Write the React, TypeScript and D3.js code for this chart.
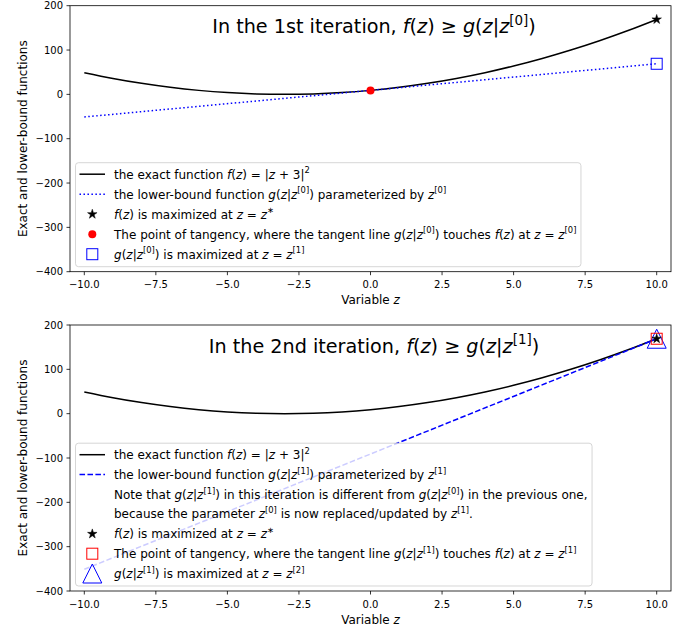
import React, { useEffect, useRef } from 'react';
import * as d3 from 'd3';

// ---------- data ----------
const zGrid = [-10, -9, -8, -7, -6, -5, -4, -3, -2, -1, 0, 1, 2, 3, 4, 5, 6, 7, 8, 9, 10];
const exactValues = [49, 36, 25, 16, 9, 4, 1, 0, 1, 4, 9, 16, 25, 36, 49, 64, 81, 100, 121, 144, 169];
const tangentZ = [-10, 10];
const lowerBound1 = [-51, 69];
const lowerBound2 = [-351, 169];
const fMaxPoint = [10, 169];
const tangency1 = [0, 9];
const gMax1 = [10, 69];
const tangency2 = [10, 169];
const gMax2 = [10, 169];
const xTickValues = [-10, -7.5, -5, -2.5, 0, 2.5, 5, 7.5, 10];
const yTickValues = [-400, -300, -200, -100, 0, 100, 200];
const titles = [
  'In the 1st iteration, $f(z) \\geq g(z|z^{[0]})$',
  'In the 2nd iteration, $f(z) \\geq g(z|z^{[1]})$',
];
const legend1Labels = [
  'the exact function $f(z) = |z+3|^2$',
  'the lower-bound function $g(z|z^{[0]})$ parameterized by $z^{[0]}$',
  '$f(z)$ is maximized at $z = z^*$',
  'The point of tangency, where the tangent line $g(z|z^{[0]})$ touches $f(z)$ at $z = z^{[0]}$',
  '$g(z|z^{[0]})$ is maximized at $z = z^{[1]}$',
];
const legend2Labels = [
  'the exact function $f(z) = |z+3|^2$',
  'the lower-bound function $g(z|z^{[1]})$ parameterized by $z^{[1]}$',
  'Note that $g(z|z^{[1]})$ in this iteration is different from $g(z|z^{[0]})$ in the previous one,',
  'because the parameter $z^{[0]}$ is now replaced/updated by $z^{[1]}$.',
  '$f(z)$ is maximized at $z = z^*$',
  'The point of tangency, where the tangent line $g(z|z^{[1]})$ touches $f(z)$ at $z = z^{[1]}$',
  '$g(z|z^{[1]})$ is maximized at $z = z^{[2]}$',
];
const yLabel = 'Exact and lower-bound functions';
const xLabel = 'Variable $z$';

// ---------- mathtext ----------
type Tok = { text: string; italic: boolean; sup: boolean };

function parseMath(m: string, sup: boolean, out: Tok[]) {
  let i = 0;
  while (i < m.length) {
    const c = m[i];
    if (c === '^') {
      i++;
      let content = '';
      if (m[i] === '{') {
        let depth = 1;
        i++;
        const start = i;
        while (i < m.length && depth > 0) {
          if (m[i] === '{') depth++;
          else if (m[i] === '}') depth--;
          i++;
        }
        content = m.slice(start, i - 1);
      } else {
        content = m[i];
        i++;
      }
      parseMath(content, true, out);
      continue;
    }
    if (c === ' ') { i++; continue; }
    if (c === '\\') {
      let j = i + 1;
      while (j < m.length && /[a-zA-Z]/.test(m[j])) j++;
      const cmd = m.slice(i + 1, j);
      i = j;
      if (cmd === 'geq') out.push({ text: ' \u2265 ', italic: false, sup });
      continue;
    }
    if (/[a-zA-Z]/.test(c)) out.push({ text: c, italic: true, sup });
    else if (c === '=' || c === '+') out.push({ text: ' ' + c + ' ', italic: false, sup });
    else if (c === '*') out.push({ text: '\u2217', italic: false, sup });
    else out.push({ text: c, italic: false, sup });
    i++;
  }
}

function parseLabel(s: string): Tok[] {
  const toks: Tok[] = [];
  s.split('$').forEach((p, idx) => {
    if (idx % 2 === 0) { if (p) toks.push({ text: p, italic: false, sup: false }); }
    else parseMath(p, false, toks);
  });
  const merged: Tok[] = [];
  for (const t of toks) {
    const last = merged[merged.length - 1];
    if (last && last.italic === t.italic && last.sup === t.sup) last.text += t.text;
    else merged.push({ ...t });
  }
  return merged;
}

function drawMath(sel: any, str: string, x: number, y: number, size: number, anchor = 'start') {
  const t = sel.append('text')
    .attr('x', x).attr('y', y)
    .attr('font-size', size)
    .attr('text-anchor', anchor)
    .attr('fill', 'black')
    .style('white-space', 'pre');
  let shift = 0;
  for (const tok of parseLabel(str)) {
    const target = tok.sup ? -0.42 * size : 0;
    t.append('tspan')
      .attr('dy', target - shift)
      .attr('font-size', tok.sup ? size * 0.7 : size)
      .attr('font-style', tok.italic ? 'italic' : 'normal')
      .text(tok.text);
    shift = target;
  }
  return t;
}

function starPath(cx: number, cy: number, r: number) {
  const pts: string[] = [];
  for (let i = 0; i < 10; i++) {
    const ang = -Math.PI / 2 + (i * Math.PI) / 5;
    const rr = i % 2 === 0 ? r : r * 0.381966;
    pts.push(`${cx + rr * Math.cos(ang)},${cy + rr * Math.sin(ang)}`);
  }
  return 'M' + pts.join('L') + 'Z';
}

type Marker = { kind: 'star' | 'circle' | 'square' | 'triangle'; color: string; size: number; fill: boolean };

function drawMarker(g: any, m: Marker, cx: number, cy: number) {
  const h = m.size / 2;
  if (m.kind === 'star') {
    g.append('path').attr('d', starPath(cx, cy, h)).attr('fill', m.color).attr('stroke', m.color).attr('stroke-width', 0.5);
  } else if (m.kind === 'circle') {
    g.append('circle').attr('cx', cx).attr('cy', cy).attr('r', h).attr('fill', m.color);
  } else if (m.kind === 'square') {
    g.append('rect').attr('x', cx - h).attr('y', cy - h).attr('width', m.size).attr('height', m.size)
      .attr('fill', 'none').attr('stroke', m.color).attr('stroke-width', 1);
  } else {
    g.append('path').attr('d', `M${cx},${cy - h}L${cx - h},${cy + h}L${cx + h},${cy + h}Z`)
      .attr('fill', 'none').attr('stroke', m.color).attr('stroke-width', 1);
  }
}

// ---------- layout ----------
const W = 688;
const H = 629;
const AX_LEFT = 70;
const AX_RIGHT = 671;
const PANELS = [
  { top: 5.7, bottom: 271.7 },
  { top: 325, bottom: 591 },
];
const DOTTED = '1.5,2.475';
const DASHED = '5.55,2.4';
const LEGEND_FS = 12;

export default function App() {
  const ref = useRef<SVGSVGElement | null>(null);

  useEffect(() => {
    const svg = d3.select(ref.current);
    svg.selectAll('*').remove();
    svg.append('rect').attr('width', W).attr('height', H).attr('fill', 'white');

    const starM: Marker = { kind: 'star', color: 'black', size: 10, fill: true };
    const circleM: Marker = { kind: 'circle', color: '#ff0000', size: 8, fill: true };
    const squareBlue: Marker = { kind: 'square', color: '#0000ff', size: 11, fill: false };
    const squareRed: Marker = { kind: 'square', color: '#ff0000', size: 11, fill: false };
    const triM: Marker = { kind: 'triangle', color: '#0000ff', size: 19, fill: false };

    const panelDefs = [
      {
        gValues: lowerBound1, dash: DOTTED,
        points: [
          { p: fMaxPoint, m: starM },
          { p: tangency1, m: circleM },
          { p: gMax1, m: squareBlue },
        ],
        legend: [
          { label: legend1Labels[0], line: 'solid-black' },
          { label: legend1Labels[1], line: 'dotted' },
          { label: legend1Labels[2], marker: starM },
          { label: legend1Labels[3], marker: circleM },
          { label: legend1Labels[4], marker: squareBlue },
        ],
      },
      {
        gValues: lowerBound2, dash: DASHED,
        points: [
          { p: gMax2, m: triM },
          { p: tangency2, m: squareRed },
          { p: fMaxPoint, m: starM },
        ],
        legend: [
          { label: legend2Labels[0], line: 'solid-black' },
          { label: legend2Labels[1], line: 'dashed' },
          { label: legend2Labels[2] },
          { label: legend2Labels[3] },
          { label: legend2Labels[4], marker: starM },
          { label: legend2Labels[5], marker: squareRed },
          { label: legend2Labels[6], marker: triM },
        ],
      },
    ];

    const root = svg.append('g').attr('font-family', '"DejaVu Sans", sans-serif');

    panelDefs.forEach((pd: any, pi) => {
      const { top, bottom } = PANELS[pi];
      const x = d3.scaleLinear().domain([-10.5, 10.5]).range([AX_LEFT, AX_RIGHT]);
      const y = d3.scaleLinear().domain([-400, 200]).range([bottom, top]);
      const g = root.append('g');

      const clipId = `clip${pi}`;
      g.append('clipPath').attr('id', clipId).append('rect')
        .attr('x', AX_LEFT).attr('y', top).attr('width', AX_RIGHT - AX_LEFT).attr('height', bottom - top);

      const plot = g.append('g').attr('clip-path', `url(#${clipId})`);

      const line = d3.line<number>()
        .x((_, i) => x(zGrid[i]))
        .y((d) => y(d))
        .curve(d3.curveNatural);
      plot.append('path').attr('d', line(exactValues) as string)
        .attr('fill', 'none').attr('stroke', 'black').attr('stroke-width', 1.5);

      const gLine = d3.line<number>().x((_, i) => x(tangentZ[i])).y((d) => y(d));
      plot.append('path').attr('d', gLine(pd.gValues) as string)
        .attr('fill', 'none').attr('stroke', '#0000ff').attr('stroke-width', 1.5)
        .attr('stroke-dasharray', pd.dash);

      const mk = g.append('g');
      pd.points.forEach((pt: any) => drawMarker(mk, pt.m, x(pt.p[0]), y(pt.p[1])));

      // axes spines
      g.append('rect').attr('x', AX_LEFT).attr('y', top).attr('width', AX_RIGHT - AX_LEFT).attr('height', bottom - top)
        .attr('fill', 'none').attr('stroke', 'black').attr('stroke-width', 0.8);

      // x ticks
      xTickValues.forEach((v) => {
        const xx = x(v);
        g.append('line').attr('x1', xx).attr('x2', xx).attr('y1', bottom).attr('y2', bottom + 3.5)
          .attr('stroke', 'black').attr('stroke-width', 0.8);
        g.append('text').attr('x', xx).attr('y', bottom + 7 + 9.5).attr('font-size', 10)
          .attr('text-anchor', 'middle').text(d3.format('.1f')(v).replace('-', '\u2212'));
      });
      yTickValues.forEach((v) => {
        const yy = y(v);
        g.append('line').attr('x1', AX_LEFT - 3.5).attr('x2', AX_LEFT).attr('y1', yy).attr('y2', yy)
          .attr('stroke', 'black').attr('stroke-width', 0.8);
        g.append('text').attr('x', AX_LEFT - 7).attr('y', yy + 3.6).attr('font-size', 10)
          .attr('text-anchor', 'end').text(String(v).replace('-', '\u2212'));
      });

      // labels
      drawMath(g, xLabel, (AX_LEFT + AX_RIGHT) / 2, bottom + 32.5, 12, 'middle');
      const cy = (top + bottom) / 2;
      g.append('text').attr('transform', `translate(26.5,${cy}) rotate(-90)`)
        .attr('font-size', 12).attr('text-anchor', 'middle').text(yLabel);

      // title
      drawMath(g, titles[pi], (AX_LEFT + AX_RIGHT) / 2 + 3.5, top + 27.5, 19.2, 'middle');

      // legend
      const n = pd.legend.length;
      const pitch = pi === 0 ? 20 : 19.8;
      const lastC = bottom - 5 - 12.5;
      const firstC = lastC - (n - 1) * pitch;
      const lg = g.append('g');
      const box = lg.append('rect')
        .attr('x', AX_LEFT + 5.5).attr('y', firstC - 11.5)
        .attr('height', lastC + 12.5 - (firstC - 11.5))
        .attr('rx', 3).attr('ry', 3)
        .attr('fill', 'white').attr('fill-opacity', 0.8)
        .attr('stroke', '#cccccc').attr('stroke-opacity', 0.8).attr('stroke-width', 1);
      let maxRight = 0;
      pd.legend.forEach((it: any, k: number) => {
        const c = firstC + k * pitch;
        if (it.line) {
          const ln = lg.append('line').attr('x1', 79.5).attr('x2', 105).attr('y1', c).attr('y2', c)
            .attr('stroke-width', 1.5);
          if (it.line === 'solid-black') ln.attr('stroke', 'black');
          else ln.attr('stroke', '#0000ff').attr('stroke-dasharray', it.line === 'dotted' ? DOTTED : DASHED);
        }
        if (it.marker) drawMarker(lg, it.marker, 92.3, c);
        const t = drawMath(lg, it.label, 114, c + 4.3, LEGEND_FS);
        const bb = (t.node() as SVGTextElement).getBBox();
        maxRight = Math.max(maxRight, bb.x + bb.width);
      });
      box.attr('width', maxRight + 4.5 - (AX_LEFT + 5.5));
    });
  }, []);

  return (
    <svg ref={ref} width={W} height={H}
      style={{ position: 'absolute', left: 0, top: 0, display: 'block' }} />
  );
}
